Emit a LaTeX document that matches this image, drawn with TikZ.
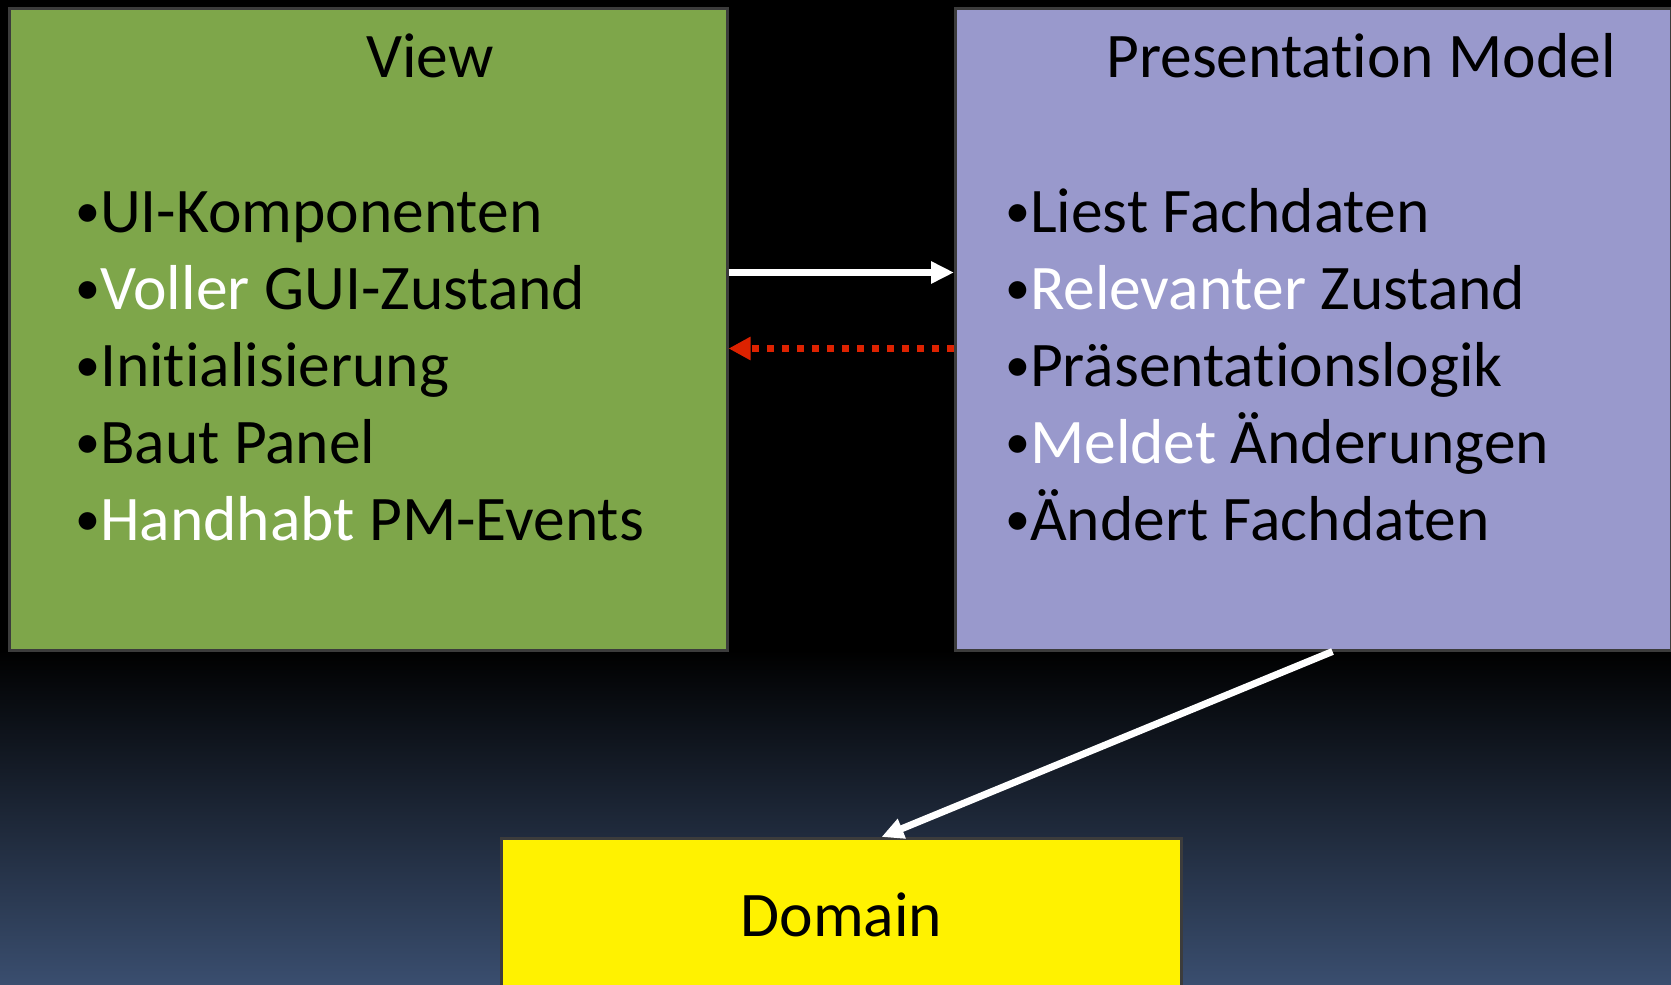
\documentclass[tikz,border=0pt]{standalone}
\usepackage{fontspec}
\setmainfont[Ligatures={NoCommon}]{Carlito}
\usepackage{xcolor}
\usetikzlibrary{arrows.meta,positioning}
\definecolor{viewgreen}{HTML}{7EA64A}
\definecolor{pmpurple}{HTML}{9999CC}
\definecolor{edgegray}{HTML}{3C3C3C}
\definecolor{notifyred}{HTML}{DD2200}
\definecolor{slateblue}{HTML}{3A4E6F}
\newcommand{\itm}{\raisebox{5pt}{\fontsize{50}{50}\selectfont •}}

\begin{document}
\begin{tikzpicture}[
			x=1pt, y=-1pt,
			font=\fontsize{63.5}{77}\selectfont,
			block/.style={
				rectangle,
				draw=edgegray,
				line width=3pt,
				inner sep=0pt,
				minimum width=718pt,
				minimum height=642pt,
				anchor=north west
			},
			title/.style={
				anchor=base,
				inner sep=0pt
			},
			items/.style={
				anchor=base west,
				inner sep=0pt
			},
			call/.style={
				white,
				line width=7pt,
				-{Triangle[length=23pt,width=21pt]}
			},
			notify/.style={
				notifyred,
				line width=7pt,
				dash pattern=on 7pt off 8pt,
				-{Triangle[length=22pt,width=22pt]}
			}
			]
			% background of the slide
			\clip (0,0) rectangle (1671,985);
			\fill [black] (0,0) rectangle (1671,650);
			\shade [top color=black, bottom color=slateblue] (0,650) rectangle (1671,985);
			
			% We start by placing the blocks
			\node [block, fill=viewgreen] (view) at (7.5,6.5) {};
			\node [block, fill=pmpurple, minimum width=716pt] (pm) at (954,6.5) {};
			\node [block, fill=yellow, minimum width=680pt, minimum height=152pt] (domain) at (500,837) {Domain};
			
			\node [title] (viewtitle) at (430,77) {View};
			\node [title] (pmtitle) at (1361,77) {Presentation Model};
			
			\node [items] (viewitems) at (75,232) 
			{%
				\begin{tabular}[t]{@{}l@{}}
				\itm UI-Komponenten\\
				\itm\textcolor{white}{Voller} GUI-Zustand\\
				\itm Initialisierung\\
				\itm Baut Panel\\
				\itm\textcolor{white}{Handhabt} PM-Events
				\end{tabular}
			};
			
			\node [items] (pmitems) at (1005,232) 
			{%
				\begin{tabular}[t]{@{}l@{}}
				\itm Liest Fachdaten\\
				\itm\textcolor{white}{Relevanter} Zustand\\
				\itm Präsentationslogik\\
				\itm\textcolor{white}{Meldet} Änderungen\\
				\itm Ändert Fachdaten
				\end{tabular}
			};
			
			\draw [call] ([yshift=56.5pt]view.east) -- ([yshift=56.5pt]pm.west);
			\draw [notify] ([yshift=-19.5pt]pm.west) -- ([yshift=-19.5pt]view.east);
			\draw [call, -{Triangle[length=22pt,width=20pt]}] ([xshift=19pt]pm.south) -- ([xshift=40pt]domain.north);
			
\end{tikzpicture}
\end{document}
